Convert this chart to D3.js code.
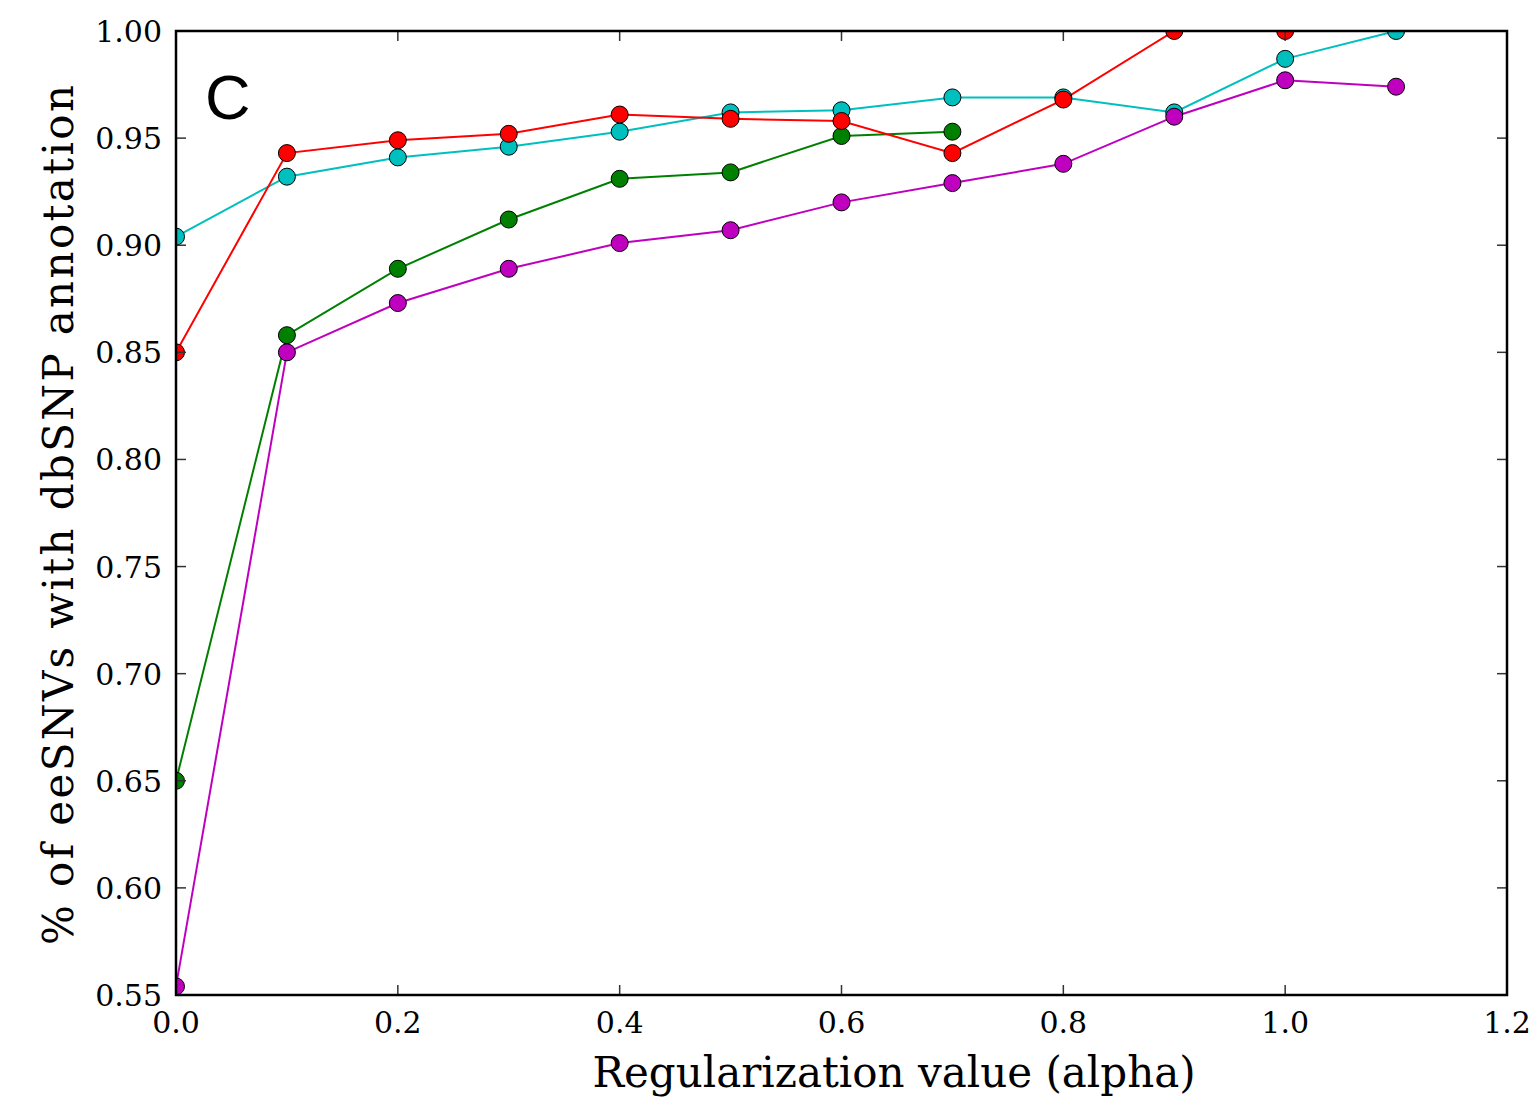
<!DOCTYPE html>
<html>
<head>
<meta charset="utf-8">
<script src="https://cdn.jsdelivr.net/npm/d3@7"></script>
<style>
  body { margin: 0; background: #fff; }
  svg { display: block; }
  .tick-label { font-family: "DejaVu Serif", serif; font-size: 30px; fill: #000; }
  .axis-label { font-family: "DejaVu Serif", serif; font-size: 42px; fill: #000; }
</style>
</head>
<body>
<div id="chart"></div>
<script>
// --- Data ---
const alphas = [0.0, 0.1, 0.2, 0.3, 0.4, 0.5, 0.6, 0.7, 0.8, 0.9, 1.0, 1.1];

const cyanVals    = [0.904, 0.932, 0.941, 0.946, 0.953, 0.962, 0.963, 0.969, 0.969, 0.962, 0.987, 1.000];
const greenVals   = [0.650, 0.858, 0.889, 0.912, 0.931, 0.934, 0.951, 0.953];
const redVals     = [0.850, 0.943, 0.949, 0.952, 0.961, 0.959, 0.958, 0.943, 0.968, 1.000, 1.000];
const magentaVals = [0.554, 0.850, 0.873, 0.889, 0.901, 0.907, 0.920, 0.929, 0.938, 0.960, 0.977, 0.974];

const xTicks = [0.0, 0.2, 0.4, 0.6, 0.8, 1.0, 1.2];
const yTicks = [0.55, 0.60, 0.65, 0.70, 0.75, 0.80, 0.85, 0.90, 0.95, 1.00];

const SERIES = [
    { name: 'cyan', values: cyanVals, color: '#00bfbf' },
    { name: 'green', values: greenVals, color: '#008000' },
    { name: 'red', values: redVals, color: '#ff0000' },
    { name: 'magenta', values: magentaVals, color: '#bf00bf' }
];

const W = 1536, H = 1097;
const margin = { top: 31, right: 29, bottom: 102, left: 176 };
const width = W - margin.left - margin.right;
const height = H - margin.top - margin.bottom;

const svg = d3.select('#chart').append('svg')
    .attr('width', W)
    .attr('height', H);

const g = svg.append('g')
    .attr('transform', `translate(${margin.left},${margin.top})`);

// --- Scales ---
const x = d3.scaleLinear().domain([0, 1.2]).range([0, width]);
const y = d3.scaleLinear().domain([0.55, 1.0]).range([height, 0]);

g.append('clipPath').attr('id', 'plot-clip')
    .append('rect').attr('width', width).attr('height', height);

// --- Lines + markers (clipped to the axes, like matplotlib) ---
const plot = g.append('g').attr('clip-path', 'url(#plot-clip)');
const line = d3.line()
    .x((d, i) => x(alphas[i]))
    .y(d => y(d));

SERIES.forEach(s => {
    plot.append('path')
        .datum(s.values)
        .attr('d', line)
        .attr('fill', 'none')
        .attr('stroke', s.color)
        .attr('stroke-width', 2);
});
SERIES.forEach(s => {
    plot.selectAll(null)
        .data(s.values)
        .enter().append('circle')
        .attr('cx', (d, i) => x(alphas[i]))
        .attr('cy', d => y(d))
        .attr('r', 8.5)
        .attr('fill', s.color)
        .attr('stroke', '#000')
        .attr('stroke-width', 1);
});

// --- Ticks (inward, all four sides) ---
const tickLen = 10;
const ticks = g.append('g').attr('stroke', '#333').attr('stroke-width', 1.5);
xTicks.forEach(t => {
    ticks.append('line').attr('x1', x(t)).attr('x2', x(t)).attr('y1', height).attr('y2', height - tickLen);
    ticks.append('line').attr('x1', x(t)).attr('x2', x(t)).attr('y1', 0).attr('y2', tickLen);
});
yTicks.forEach(t => {
    ticks.append('line').attr('x1', 0).attr('x2', tickLen).attr('y1', y(t)).attr('y2', y(t));
    ticks.append('line').attr('x1', width).attr('x2', width - tickLen).attr('y1', y(t)).attr('y2', y(t));
});

// frame
g.append('rect')
    .attr('width', width).attr('height', height)
    .attr('fill', 'none').attr('stroke', '#000').attr('stroke-width', 2.5);

// tick labels
g.selectAll('.xt').data(xTicks).enter().append('text')
    .attr('class', 'tick-label')
    .attr('x', d => x(d))
    .attr('y', height + 38)
    .attr('text-anchor', 'middle')
    .text(d => d.toFixed(1));

g.selectAll('.yt').data(yTicks).enter().append('text')
    .attr('class', 'tick-label')
    .attr('x', -14)
    .attr('y', d => y(d) + 11)
    .attr('text-anchor', 'end')
    .text(d => d.toFixed(2));

// --- Axis labels ---
svg.append('text')
    .attr('class', 'axis-label')
    .attr('x', 894)
    .attr('y', 1087)
    .attr('text-anchor', 'middle')
    .text('Regularization value (alpha)');

svg.append('text')
    .attr('class', 'axis-label')
    .attr('transform', `translate(73,515) rotate(-90)`)
    .attr('text-anchor', 'middle')
    .attr('textLength', 860)
    .attr('lengthAdjust', 'spacing')
    .text('% of eeSNVs with dbSNP annotation');

// panel letter
svg.append('text')
    .attr('x', 205)
    .attr('y', 119)
    .attr('font-family', '"Liberation Sans", Arial, sans-serif')
    .attr('font-size', 63)
    .text('C');
</script>
</body>
</html>
